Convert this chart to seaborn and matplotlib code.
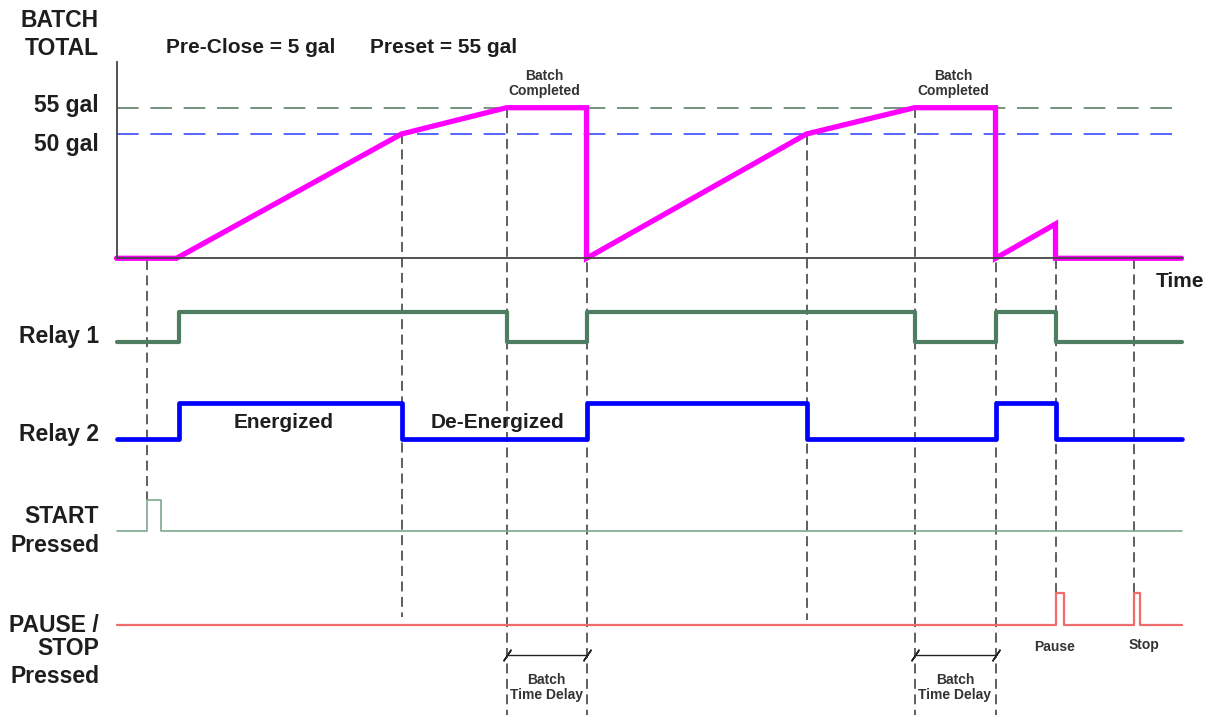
import numpy as np
import matplotlib
matplotlib.use("Agg")
import matplotlib.pyplot as plt
import seaborn as sns

sns.set_theme(style="white")
plt.rcParams['font.family'] = ['Liberation Sans', 'DejaVu Sans']
plt.rcParams['font.weight'] = 'bold'

# --- data: time in s (1 s = 10 px in the picture), levels / states ---
batch_time = [0, 6.0, 28.5, 39.0, 47.0, 47.0, 69.0, 79.8, 87.9, 87.9, 93.9, 93.9, 106.5]
batch_gal = [0, 0, 50, 55, 55, 0, 50, 55, 55, 0, 13.8, 0, 0]

relay1_time = [0, 6.25, 39.0, 47.0, 79.8, 87.9, 93.9, 106.5]
relay1_state = [0, 1, 0, 1, 0, 1, 0, 0]
relay2_time = [0, 6.25, 28.5, 47.0, 69.0, 87.9, 93.9, 106.5]
relay2_state = [0, 1, 0, 1, 0, 1, 0, 0]
start_time = [0, 3.0, 4.4, 106.5]
start_state = [0, 1, 0, 0]
stop_time = [0, 93.9, 94.7, 101.7, 102.3, 106.5]
stop_state = [0, 1, 0, 1, 0, 0]

preclose_gal = 50
preset_gal = 55
delay_spans = [(39.0, 47.0), (79.8, 87.9)]
pause_t, stop_t = 93.9, 101.7

# --- layout (picture rows, px from top) ---
W, H = 1211, 715
px0 = 116.5            # time zero column
y_zero, y_top = 258.3, 62
rows = {'relay1': (341.7, 30), 'relay2': (439, 36), 'start': (530.7, 30.7), 'stop': (624.5, 31.5)}
# event markers: time, top row, bottom row
event_lines = [(3.0, 260, 500), (28.5, 134, 617), (39.0, 107.7, 715), (47.0, 107.7, 715),
               (69.0, 135, 620), (79.8, 107.7, 715), (87.9, 107.7, 715),
               (pause_t, 259, 593), (stop_t, 259, 593)]


def t(px):
    return (px - px0) / 10.0


# schematic (non linear) gallon scale of the batch panel
gal_pts = [0, 50, 55, 100]
px_pts = [0, 124.3, 150.6, 150.6 + 45 * 5.26]


def fwd(v):
    return np.interp(v, gal_pts, px_pts)


def inv(v):
    return np.interp(v, px_pts, gal_pts)


fig = plt.figure(figsize=(W / 100, H / 100), dpi=100)

ax_all = fig.add_axes([0, 0, 1, 1])
ax_all.set_xlim(t(0), t(W))
ax_all.set_ylim(H, 0)
ax_all.axis('off')

ax_b = fig.add_axes([px0 / W, 1 - y_zero / H, 1065 / W, (y_zero - y_top) / H])
ax_b.set_yscale('function', functions=(fwd, inv))
ax_b.patch.set_alpha(0)
ax_b.set_zorder(2)

# batch total
ax_b.hlines(preset_gal, 0, 105.5, colors='#5f8069', lw=1.2, linestyles=(0, (13, 7)))
ax_b.hlines(preclose_gal, 0, 105.5, colors='#3a4cff', lw=1.2, linestyles=(0, (13, 7)))
sns.lineplot(x=batch_time, y=batch_gal, ax=ax_b, estimator=None, sort=False,
             color='#ff00ff', lw=3.8, clip_on=False, solid_joinstyle='miter')
ax_b.set_xlim(0, 106.5)
ax_b.set_ylim(0, inv(y_zero - y_top))
ax_b.set_xticks([])
ax_b.set_yticks([])
ax_b.set_xlabel('')
ax_b.set_ylabel('')
for s in ['top', 'right']:
    ax_b.spines[s].set_visible(False)
for s in ['left', 'bottom']:
    ax_b.spines[s].set_color('#444444')
    ax_b.spines[s].set_linewidth(1.3)

# event markers
ev_t = [e[0] for e in event_lines]
ax_all.vlines(ev_t, [e[1] for e in event_lines], [e[2] for e in event_lines],
              colors='#333333', lw=1.1, linestyles=(0, (6.5, 3.6)))

# signal traces
traces = [('relay1', relay1_time, relay1_state, '#4e7d61', 3.0),
          ('relay2', relay2_time, relay2_state, '#0000ff', 3.4),
          ('start', start_time, start_state, '#7fa78d', 1.2),
          ('stop', stop_time, stop_state, '#f06b6b', 1.6)]
for name, tt, st, col, lw in traces:
    base, amp = rows[name]
    yy = base - amp * np.array(st, dtype=float)
    sns.lineplot(x=tt, y=yy, ax=ax_all, estimator=None, sort=False, drawstyle='steps-post',
                 color=col, lw=lw, solid_capstyle='round')
ax_all.set_xlim(t(0), t(W))
ax_all.set_ylim(H, 0)

# batch time delay brackets
for a, b in delay_spans:
    ax_all.plot([a, b], [655, 655], color='#222222', lw=1.0, marker=(2, 2, -34), ms=10, mew=1.1)
    ax_all.text((a + b) / 2, 684, 'Batch', ha='center', va='baseline', fontsize=10, color='#333333')
    ax_all.text((a + b) / 2, 699, 'Time Delay', ha='center', va='baseline', fontsize=10, color='#333333')
    ax_all.text((a + b) / 2 - 0.2, 80.5, 'Batch', ha='center', va='baseline', fontsize=10, color='#333333')
    ax_all.text((a + b) / 2 - 0.2, 94.5, 'Completed', ha='center', va='baseline', fontsize=10, color='#333333')

ax_all.text(pause_t - 0.1, 651, 'Pause', ha='center', va='baseline', fontsize=10, color='#333333')
ax_all.text(stop_t + 1.05, 649, 'Stop', ha='center', va='baseline', fontsize=10, color='#333333')

# left labels
big = dict(ha='right', va='baseline', fontsize=16.5, color='#1e1e1e')
left_labels = [('BATCH', 27), ('TOTAL', 55), ('55 gal', 112), ('50 gal', 151),
               ('Relay 1', 342.5), ('Relay 2', 441.5), ('START', 523), ('Pressed', 552),
               ('PAUSE /', 632), ('STOP', 655), ('Pressed', 683)]
for txt, y in left_labels:
    ax_all.text(t(99), y, txt, **big)

mid = dict(va='baseline', fontsize=15, color='#1e1e1e')
ax_all.text(t(250.5), 53, 'Pre-Close = 5 gal', ha='center', **mid)
ax_all.text(t(444), 53, 'Preset = 55 gal', ha='center', **mid)
ax_all.text(t(1156), 287, 'Time', ha='left', **mid)
ax_all.text(t(284), 428, 'Energized', ha='center', **mid)
ax_all.text(t(497), 428, 'De-Energized', ha='center', **mid)

fig.savefig('out.png', dpi=100)
